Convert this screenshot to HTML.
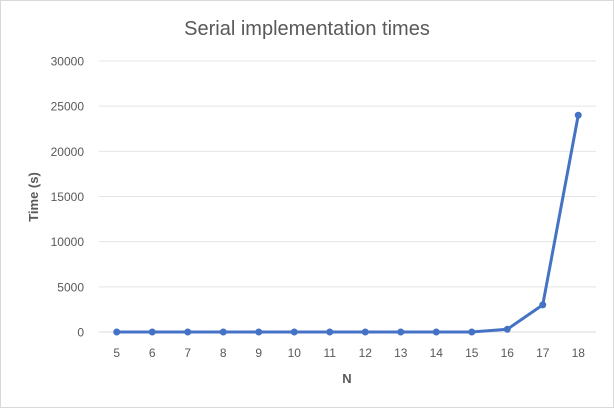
<!DOCTYPE html>
<html><head><meta charset="utf-8"><style>
html,body{margin:0;padding:0;background:#fff;}
svg{display:block;font-family:"Liberation Sans",sans-serif;}
</style></head><body>
<svg id="chart" width="614" height="408">
<rect x="0.5" y="0.5" width="613" height="407" fill="#fff" stroke="#d9d9d9"/>
<text x="307" y="35" text-anchor="middle" font-size="20" fill="#595959">Serial implementation times</text>
<text transform="translate(38,197) rotate(-90)" text-anchor="middle" font-size="13" font-weight="bold" fill="#595959">Time (s)</text>
<text x="347" y="383" text-anchor="middle" font-size="13" font-weight="bold" fill="#595959">N</text>
<g id="grid"></g><g id="xlabels"></g><g id="ylabels"></g><g id="series"></g>
</svg>
<script>
const categories=[5,6,7,8,9,10,11,12,13,14,15,16,17,18];
const times=[0,0,0,0,0,0,0,0,0,0,0,300,3000,24000];
const yTicks=[0,5000,10000,15000,20000,25000,30000];
const NS="http://www.w3.org/2000/svg";
const left=99,right=596,y0=332,yTop=61,yMax=30000;
const step=(right-left)/categories.length;
function xPos(i){return left+step*(i+0.5);}
function yPos(v){return y0-(v/yMax)*(y0-yTop);}
function mk(t,a,p){const e=document.createElementNS(NS,t);for(const k in a)e.setAttribute(k,a[k]);p.appendChild(e);return e;}
const grid=document.getElementById('grid'),yl=document.getElementById('ylabels'),xl=document.getElementById('xlabels'),ser=document.getElementById('series');
yTicks.forEach(v=>{
  const l=mk('line',{x1:left,x2:right,y1:yPos(v),y2:yPos(v),stroke:v===0?'#d9d9d9':'#e4e4e4','stroke-width':1},grid);
  
  
  const t=mk('text',{x:84,y:yPos(v)+4.5,'text-anchor':'end','font-size':12,fill:'#595959'},yl);
  t.textContent=v;
  
  
});
categories.forEach((c,i)=>{
  const t=mk('text',{x:xPos(i),y:357,'text-anchor':'middle','font-size':12,fill:'#595959'},xl);
  t.textContent=c;
  
  
});
const pts=times.map((v,i)=>xPos(i)+','+yPos(v)).join(' ');
const pl=mk('polyline',{points:pts,fill:'none',stroke:'#4472c4','stroke-width':3,'stroke-linejoin':'round'},ser);


times.forEach((v,i)=>{
  const c=mk('circle',{cx:xPos(i),cy:yPos(v),r:3.5,fill:'#4472c4'},ser);
  
  
});
</script>
</body></html>
